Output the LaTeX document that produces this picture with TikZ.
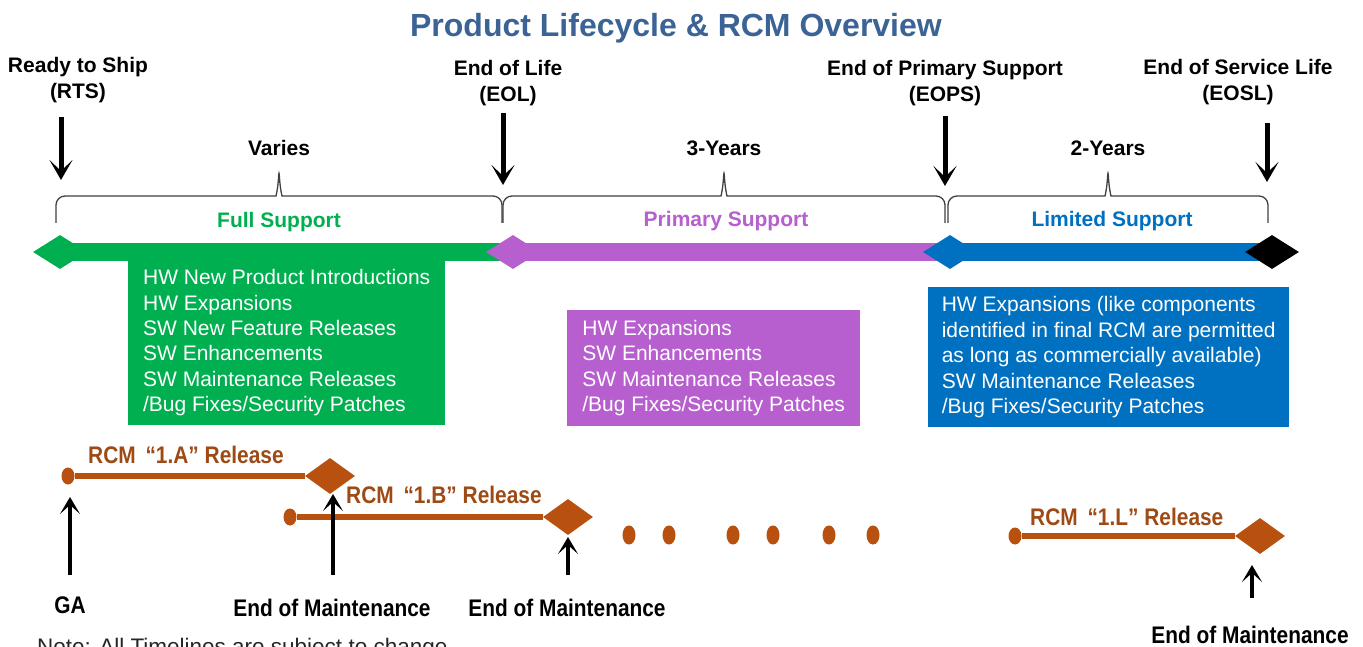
\documentclass[tikz,border=0pt]{standalone}
\usepackage{fontspec}
\setmainfont{Liberation Sans}
\newfontfamily\narrowfont[FakeStretch=0.87]{Liberation Sans}
\usepackage{tikz}
\usetikzlibrary{arrows.meta}
\usetikzlibrary{shapes.geometric}

\definecolor{titleblue}{RGB}{59,99,150}
\definecolor{fullgreen}{RGB}{0,176,80}
\definecolor{primpurple}{RGB}{183,95,207}
\definecolor{limblue}{RGB}{0,112,192}
\definecolor{rcmbrown}{RGB}{184,80,15}
\definecolor{rcmtext}{RGB}{158,74,20}

\begin{document}
\begin{tikzpicture}[x=1pt,y=-1pt,
        milestone/.style={font=\fontsize{21}{26}\selectfont\bfseries, align=center, inner sep=0pt},
        span/.style={font=\fontsize{21}{25}\selectfont\bfseries, inner sep=0pt},
        phase/.style={font=\fontsize{21}{25}\selectfont\bfseries, text=#1, inner sep=0pt},
        bracket/.style={draw=black!75, line width=1.3pt, rounded corners=9pt},
        bar/.style={draw=#1, line width=18pt},
        diam/.style={diamond, fill=#1, minimum width=54pt, minimum height=34pt, inner sep=0pt},
        infobox/.style={fill=#1, text=white, font=\fontsize{21}{25.4}\selectfont, align=left, inner sep=0pt},
        downarrow/.style={line width=5pt, -{Stealth[length=20pt,width=23pt,inset=11pt]}},
        uparrow/.style={line width=4pt, -{Stealth[length=17pt,width=20pt,inset=9pt]}},
        rcmline/.style={draw=rcmbrown, line width=6pt},
        rcmdot/.style={ellipse, fill=rcmbrown, minimum width=13pt, minimum height=17pt, inner sep=0pt},
        rcmend/.style={diamond, fill=rcmbrown, minimum width=50pt, minimum height=36pt, inner sep=0pt},
        rcmlabel/.style={font=\narrowfont\fontsize{24}{28}\selectfont\bfseries, text=rcmtext, anchor=west, inner sep=0pt},
        eom/.style={font=\narrowfont\fontsize{24}{28}\selectfont\bfseries, inner sep=0pt},
    ]
    \useasboundingbox[fill=white] (0,0) rectangle (1363,647);
    % title
    \node[font=\fontsize{32}{38}\selectfont\bfseries, text=titleblue] (title) at (676,28) {Product Lifecycle \& RCM Overview};
    % milestones
    \node[milestone] (mRTS) at (78,80) {Ready to Ship\\(RTS)};
    \node[milestone] (mEOL) at (508,83.5) {End of Life\\(EOL)};
    \node[milestone] (mEOPS) at (945,83) {End of Primary Support\\(EOPS)};
    \node[milestone] (mEOSL) at (1238,82.5) {End of Service Life\\(EOSL)};
    \coordinate (sRTS) at (61,117);   \coordinate (tRTS) at (61,180);
    \coordinate (sEOL) at (503,113);  \coordinate (tEOL) at (503,185);
    \coordinate (sEOPS) at (945,116); \coordinate (tEOPS) at (945,186);
    \coordinate (sEOSL) at (1267,123); \coordinate (tEOSL) at (1267,182);
    \foreach \p in {RTS,EOL,EOPS,EOSL}
        \draw[downarrow] (s\p) -- (t\p);
    % braces
    \foreach \a/\m/\b/\t in {56/279/502/Varies, 503/724/945/3-Years, 948/1108/1268/2-Years} {
        \draw[bracket] (\a,223) |- (\m-12,196) .. controls (\m-3,196) and (\m-1,188) .. (\m,168)
            .. controls (\m+1,188) and (\m+3,196) .. (\m+12,196) -| (\b,223);
        \node[span] (len\m) at (\m,148) {\t};
    }
    \node[phase=fullgreen] (pFull) at (279,222) {Full Support};
    \node[phase=primpurple] (pPrim) at (726,221) {Primary Support};
    \node[phase=limblue] (pLim) at (1112,221) {Limited Support};
    % support bars
    \coordinate (cRTS) at (60,252);
    \coordinate (cEOL) at (513,252);
    \coordinate (cEOPS) at (950,252);
    \coordinate (cEOSL) at (1272,252);
    \draw[bar=fullgreen] (cRTS) -- (cEOL);
    \draw[bar=primpurple] (cEOL) -- (cEOPS);
    \draw[bar=limblue] (cEOPS) -- (cEOSL);
    \node[diam=fullgreen] (dRTS) at (cRTS) {};
    \node[diam=primpurple] (dEOL) at (cEOL) {};
    \node[diam=limblue] (dEOPS) at (cEOPS) {};
    \node[diam=black] (dEOSL) at (cEOSL) {};
    % boxes
    \node[infobox=fullgreen, anchor=north west, minimum width=317pt, minimum height=165pt] (bFull) at (128,260)
        {HW New Product Introductions\\HW Expansions\\SW New Feature Releases\\SW Enhancements\\SW Maintenance Releases\\/Bug Fixes/Security Patches};
    \node[infobox=primpurple, anchor=north west, minimum width=293pt, minimum height=116pt] (bPrim) at (567,310)
        {HW Expansions\\SW Enhancements\\SW Maintenance Releases\\/Bug Fixes/Security Patches};
    \node[infobox=limblue, anchor=north west, minimum width=361pt, minimum height=140pt] (bLim) at (928,287)
        {HW Expansions (like components\\identified in final RCM are permitted\\as long as commercially available)\\SW Maintenance Releases\\/Bug Fixes/Security Patches};
    % RCM releases
    \node[rcmdot] (gaA) at (68,476) {};
    \node[rcmend] (eomA) at (330,476) {};
    \draw[rcmline] (gaA) -- (eomA);
    \node[rcmlabel] (lblA) at (88,455) {RCM \,“1.A” Release};
    \node[rcmdot] (gaB) at (290,517) {};
    \node[rcmend] (eomB) at (568,517) {};
    \draw[rcmline] (gaB) -- (eomB);
    \node[rcmlabel] (lblB) at (346,495) {RCM \,“1.B” Release};
    \node[rcmdot] (gaL) at (1015,536) {};
    \node[rcmend] (eomL) at (1260,536) {};
    \draw[rcmline] (gaL) -- (eomL);
    \node[rcmlabel] (lblL) at (1030,517) {RCM \,“1.L” Release};
    \foreach \x [count=\i] in {629,669,733,773,829,873}
        \node[rcmdot, minimum width=13pt, minimum height=19pt] (gap\i) at (\x,535) {};
    % arrows up
    \node[eom] (tGA) at (70,605) {GA};
    \node[eom] (tEomA) at (332,608) {End of Maintenance};
    \node[eom] (tEomB) at (567,608) {End of Maintenance};
    \node[eom] (tEomL) at (1250,635) {End of Maintenance};
    \coordinate (uGA) at (70,575);    \coordinate (vGA) at (70,497);
    \coordinate (uA) at (333,575);    \coordinate (vA) at (333,494);
    \coordinate (uB) at (568,575);    \coordinate (vB) at (568,537);
    \coordinate (uL) at (1252,598);   \coordinate (vL) at (1252,565);
    \foreach \p in {GA,A,B,L}
        \draw[uparrow] (u\p) -- (v\p);
    % note
    \node[font=\fontsize{22.5}{27}\selectfont, text=black!85, anchor=base west, inner sep=0pt] (note) at (37,654) {Note: All Timelines are subject to change};
\end{tikzpicture}
\end{document}
